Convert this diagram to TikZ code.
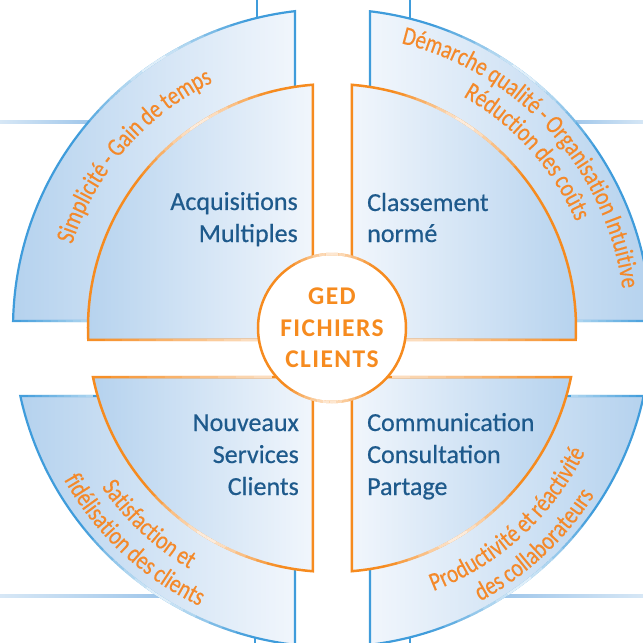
\documentclass[tikz,border=0pt]{standalone}
\usepackage{fontspec}
\setmainfont{Carlito}
\newfontfamily\hubfamily[LetterSpace=5.5]{Carlito}
\newfontfamily\ringfamily[FakeStretch=0.81,LetterSpace=-2.5,FakeBold=0.4]{Carlito}
\newfontfamily\quadfamily[FakeBold=0.5]{Carlito}
\usetikzlibrary{decorations.text,calc}
\definecolor{bdark}{HTML}{B5D2EE}
\definecolor{blight}{HTML}{F1F6FC}
\definecolor{bline}{HTML}{3F9CDB}
\definecolor{hnear}{HTML}{9FC6EA}
\definecolor{hfar}{HTML}{D8E8F6}
\definecolor{borange}{HTML}{F68B1F}
\definecolor{torange}{HTML}{F4892A}
\definecolor{tblue}{HTML}{1E5A8C}
\newcommand\ringfont{\ringfamily\fontsize{26}{30}\selectfont}
\newcommand\quadfont{\quadfamily\fontsize{26}{32}\selectfont}
\newcommand\hubfont{\hubfamily\bfseries\fontsize{25.5}{31.5}\selectfont}
% white glossy highlight along an arc: radius, centre angle, half width, line width, max opacity
\newcommand\arcgloss[5]{%
  \foreach \k in {-7,...,6}{%
    \pgfmathsetmacro\sa{#2+#3*\k/7}%
    \pgfmathsetmacro\ea{#2+#3*(\k+1)/7}%
    \pgfmathsetmacro\op{#5*(1-abs(\k+0.5)/7)}%
    \draw[white, line width=#4, opacity=\op] (\sa:#1) arc[start angle=\sa, end angle=\ea, radius=#1];
  }}
% white fade along a straight edge: from, to, line width, max opacity (0 at from)
\newcommand\linegloss[4]{%
  \foreach \k in {0,...,9}{%
    \pgfmathsetmacro\fa{\k/10}%
    \pgfmathsetmacro\fb{(\k+1)/10}%
    \pgfmathsetmacro\op{#4*(\k+0.5)/10}%
    \draw[white, line width=#3, opacity=\op] ($(#1)!\fa!(#2)$) -- ($(#1)!\fb!(#2)$);
  }}
\begin{document}
\begin{tikzpicture}[x=1pt,y=1pt,
  ringL/.style={draw=bline, line width=2.2pt, left color=bdark, right color=blight},
  ringR/.style={draw=bline, line width=2.2pt, left color=blight, right color=bdark},
  quadL/.style={draw=borange, line width=2.5pt, left color=bdark, right color=blight},
  quadR/.style={draw=borange, line width=2.5pt, left color=blight, right color=bdark},
  hub/.style={circle, draw=borange, line width=2.5pt, fill=white, minimum size=148pt,
    inner sep=0pt, align=center, text=borange, font=\hubfont},
  quadtextL/.style={anchor=base east, inner sep=0pt, text=tblue, font=\quadfont},
  quadtextR/.style={anchor=base west, inner sep=0pt, text=tblue, font=\quadfont},
  ringtext/.style={decorate, decoration={text along path, text align=center,
    text={|\ringfont\color{torange}|#1}}},
  vline/.style={draw=bline, line width=2.2pt},
]
\useasboundingbox (-332,-315) rectangle (311,328);
\clip (-332,-315) rectangle (311,328);

% frame lines behind the wheel
\coordinate (vTLa) at (-75,305); \coordinate (vTLb) at (-75,335);
\coordinate (vTRa) at (78,305);  \coordinate (vTRb) at (78,335);
\coordinate (vBLa) at (-77,-305); \coordinate (vBLb) at (-77,-325);
\coordinate (vBRa) at (78,-305);  \coordinate (vBRb) at (78,-325);
\draw[vline] (vTLa) -- (vTLb);
\draw[vline] (vTRa) -- (vTRb);
\draw[vline] (vBLa) -- (vBLb);
\draw[vline] (vBRa) -- (vBRb);
\shade[left color=hfar, right color=hnear] (-335,204.8) rectangle (-240,207.2);
\shade[left color=hnear, right color=hfar] (240,204.8) rectangle (315,207.2);
\shade[left color=hfar, right color=hnear] (-335,-269.2) rectangle (-168,-266.8);
\shade[left color=hnear, right color=hfar] (168,-269.2) rectangle (315,-266.8);

% outer ring pieces
\path[ringL] (-37,7) -- (-37,316.85) arc[start angle=96.661, end angle=178.743, radius=319] -- cycle;
\path[ringR] (38,7) -- (38,316.73) arc[start angle=83.158, end angle=1.257, radius=319] -- cycle;
\path[ringL] (-37,-68) -- (-37,-316.85) arc[start angle=263.339, end angle=192.308, radius=319] -- cycle;
\path[ringR] (38,-68) -- (38,-316.73) arc[start angle=276.842, end angle=347.692, radius=319] -- cycle;
\arcgloss{319}{124}{18}{2.3}{0.9}
\arcgloss{319}{53}{18}{2.3}{0.9}
\arcgloss{319}{237}{18}{2.3}{0.9}
\arcgloss{319}{306}{18}{2.3}{0.9}
\linegloss{-318.9,7}{-244,7}{2.3}{0.6}
\linegloss{318.9,7}{244,7}{2.3}{0.6}
\linegloss{-311.7,-68}{-239,-68}{2.3}{0.6}
\linegloss{311.7,-68}{239,-68}{2.3}{0.6}

% inner quadrants
\path[quadL] (-19,-12) -- (-19,243.26) arc[start angle=94.466, end angle=182.819, radius=244] -- cycle;
\path[quadR] (20,-12) -- (20,243.18) arc[start angle=85.298, end angle=-2.819, radius=244] -- cycle;
\path[quadL] (-19,-49) -- (-19,-243.26) arc[start angle=265.534, end angle=191.585, radius=244] -- cycle;
\path[quadR] (20,-49) -- (20,-243.18) arc[start angle=274.702, end angle=348.415, radius=244] -- cycle;
\arcgloss{244}{123}{18}{2.6}{0.9}
\arcgloss{244}{57}{18}{2.6}{0.9}
\arcgloss{244}{239}{18}{2.6}{0.9}
\arcgloss{244}{301}{18}{2.6}{0.9}
\linegloss{-243.7,-12}{-74,-12}{2.6}{0.75}
\linegloss{243.7,-12}{74,-12}{2.6}{0.75}
\linegloss{-239,-49}{-60,-49}{2.6}{0.75}
\linegloss{239,-49}{60,-49}{2.6}{0.75}

% hub
\node[hub] (hub) at (0,0) {GED\\FICHIERS\\CLIENTS};
\arcgloss{74}{90}{35}{2.6}{0.85}
\arcgloss{74}{268}{35}{2.6}{0.85}

% quadrant labels
\node[quadtextL] (tlA) at (-34,118) {Acquisitions};
\node[quadtextL] (tlB) at (-34,86) {Multiples};
\node[quadtextR] (trA) at (35,117) {Classement};
\node[quadtextR] (trB) at (35,86) {normé};
\node[quadtextL] (blA) at (-33,-103) {Nouveaux};
\node[quadtextL] (blB) at (-33,-135) {Services};
\node[quadtextL] (blC) at (-33,-167) {Clients};
\node[quadtextR] (brA) at (35,-103) {Communication};
\node[quadtextR] (brB) at (35,-135) {Consultation};
\node[quadtextR] (brC) at (35,-167) {Partage};

% ring labels
\path[ringtext={Simplicité - Gain de temps}] (209:273) arc[start angle=209, end angle=69, radius=273];
\path[ringtext={Démarche qualité - Organisation Intuitive}] (112:293) arc[start angle=112, end angle=-28, radius=293];
\path[ringtext={Réduction des coûts}] (112:266) arc[start angle=112, end angle=-28, radius=266];
\path[ringtext={Satisfaction et}] (157:280) arc[start angle=157, end angle=297, radius=280];
\path[ringtext={fidélisation des clients}] (157:308) arc[start angle=157, end angle=297, radius=308];
\path[ringtext={Productivité et réactivité}] (242.5:282) arc[start angle=242.5, end angle=382.5, radius=282];
\path[ringtext={des collaborateurs}] (243:311) arc[start angle=243, end angle=383, radius=311];
\end{tikzpicture}
\end{document}
